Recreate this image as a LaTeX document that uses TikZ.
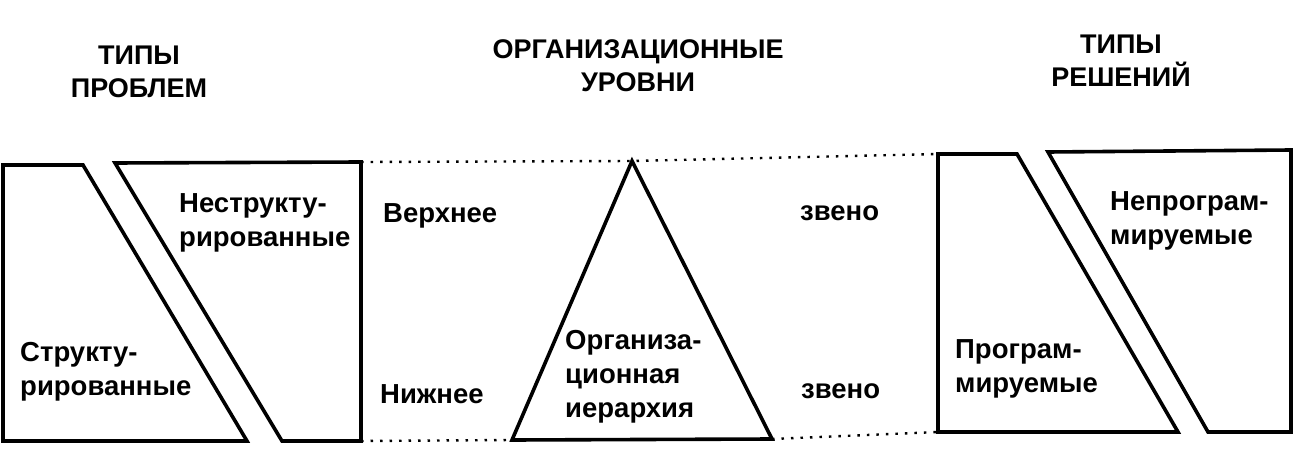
\documentclass[tikz,border=0pt]{standalone}
\usepackage{fontspec}
\setmainfont{Liberation Sans}
\usetikzlibrary{positioning}

\begin{document}
\begin{tikzpicture}[
    x=1pt, y=-1pt,
    every node/.style={font=\fontsize{27.5}{34}\selectfont\bfseries, inner sep=0pt},
    heading/.style={align=center, font=\fontsize{27}{33}\selectfont\bfseries},
    label/.style={align=left, anchor=west},
    outline/.style={line width=3.6pt, line join=miter},
    level/.style={line width=2.4pt, dash pattern=on 2.5pt off 7pt},
]
\useasboundingbox (0,0) rectangle (1298,476);

% Headings
\node[heading] (probhead) at (139, 72) {ТИПЫ\\ПРОБЛЕМ};
\node[heading] (levhead) at (638, 66) {ОРГАНИЗАЦИОННЫЕ\\УРОВНИ};
\node[heading] (solhead) at (1121, 61) {ТИПЫ\\РЕШЕНИЙ};

% Problem types
\coordinate (sa) at (3, 165);
\coordinate (sb) at (83, 165);
\coordinate (sc) at (247, 441);
\coordinate (sd) at (3, 441);
\draw[outline] (sa) -- (sb) -- (sc) -- (sd) -- cycle;
\coordinate (ua) at (115, 163);
\coordinate (ub) at (361, 162);
\coordinate (uc) at (361, 441);
\coordinate (ud) at (282, 441);
\draw[outline] (ua) -- (ub) -- (uc) -- (ud) -- cycle;
\node[label] (struct) at (20, 372) {Структу-\\рированные};
\node[label] (unstruct) at (179, 223) {Неструкту-\\рированные};

% Hierarchy
\coordinate (apex) at (632, 161);
\coordinate (bl) at (512, 440);
\coordinate (br) at (772, 439);
\draw[outline] (apex) -- (br) -- (bl) -- cycle;
\node[label] (hier) at (565, 377) {Организа-\\ционная\\иерархия};
\node[label] (upper) at (383, 216) {Верхнее};
\node[label] (lower) at (380, 394) {Нижнее};
\node[label] (uplink) at (800, 213) {звено};
\node[label] (lowlink) at (801, 391) {звено};

% Solution types
\coordinate (pa) at (938, 154);
\coordinate (pb) at (1017, 154);
\coordinate (pc) at (1178, 432);
\coordinate (pd) at (938, 432);
\draw[outline] (pa) -- (pb) -- (pc) -- (pd) -- cycle;
\coordinate (na) at (1048, 152);
\coordinate (nb) at (1291, 150);
\coordinate (nc) at (1291, 432);
\coordinate (nd) at (1208, 432);
\draw[outline] (na) -- (nb) -- (nc) -- (nd) -- cycle;
\node[label] (prog) at (955, 369) {Програм-\\мируемые};
\node[label] (nonprog) at (1110, 221) {Непрограм-\\мируемые};

% Level lines
\draw[level] (ub) -- (apex) -- (pa);
\draw[level] (uc) -- (bl);
\draw[level] (br) -- (pd);

\end{tikzpicture}
\end{document}
